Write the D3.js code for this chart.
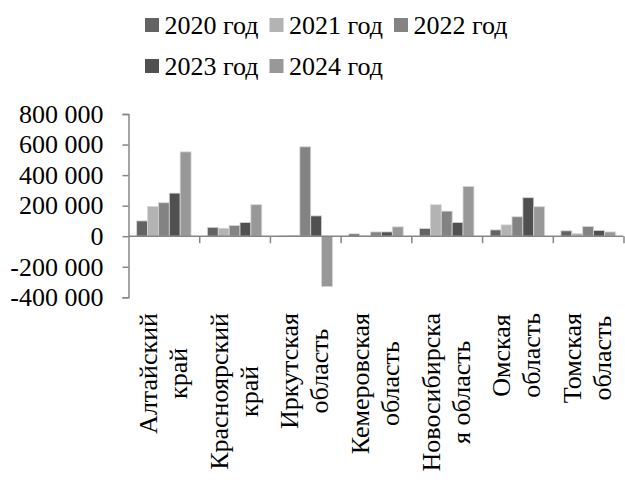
<!DOCTYPE html>
<html>
<head>
<meta charset="utf-8">
<script src="https://cdn.jsdelivr.net/npm/d3@7/dist/d3.min.js"></script>
<style>
  html, body { margin: 0; padding: 0; background: #fff; }
  svg text { font-family: 'Liberation Serif', 'Times New Roman', Tinos, 'DejaVu Serif', serif !important; fill: #000; }
</style>
</head>
<body>
<svg id="chart" width="625" height="501"></svg>
<script>
const categories = [
  ["Алтайский", "край"],
  ["Красноярский", "край"],
  ["Иркутская", "область"],
  ["Кемеровская", "область"],
  ["Новосибирска", "я область"],
  ["Омская", "область"],
  ["Томская", "область"]
];
const seriesNames = ["2020 год", "2021 год", "2022 год", "2023 год", "2024 год"];
const v2020 = [100000, 58000, 1500, 15000, 50000, 41000, 35000];
const v2021 = [195000, 52000, 4000, 2000, 206000, 74000, 17000];
const v2022 = [219000, 70000, 585000, 28000, 164000, 127000, 63000];
const v2023 = [282000, 89000, 133000, 28000, 90000, 252000, 37000];
const v2024 = [552000, 206000, -330000, 61000, 326000, 193000, 28000];
const yTicks = [-400000, -200000, 0, 200000, 400000, 600000, 800000];
const colors = ["#636363", "#b3b3b3", "#838383", "#505050", "#989898"];

const series = [v2020, v2021, v2022, v2023, v2024];
const svg = d3.select("#chart");
const fontSize = 26;
const FONT = "'Liberation Serif', 'Times New Roman', Tinos, 'DejaVu Serif', serif";

const x0 = d3.scaleBand().domain(d3.range(categories.length)).range([128.5, 623.5]).paddingInner(0).paddingOuter(0);
const groupPad = x0.bandwidth() * 1.5 / 6.5 / 2;
const x1 = d3.scaleBand().domain(d3.range(series.length)).range([groupPad, x0.bandwidth() - groupPad]);
const y = d3.scaleLinear().domain([-400000, 800000]).range([297.3, 114]);

const fmt = d => d3.format(",")(d).replace(/,/g, " ").replace("−", "-");

// bars
series.forEach((vals, si) => {
  svg.append("g").selectAll("rect").data(vals).join("rect")
    .attr("x", (d, i) => x0(i) + x1(si))
    .attr("width", x1.bandwidth())
    .attr("y", d => y(Math.max(0, d)))
    .attr("height", d => Math.abs(y(d) - y(0)))
    .attr("fill", colors[si])
    .attr("stroke", "#d6d6d6")
    .attr("stroke-width", 0.8);
});

// y axis
const yAxis = d3.axisLeft(y).tickValues(yTicks).tickSize(6).tickPadding(19).tickFormat(fmt);
const gy = svg.append("g").attr("transform", "translate(128.5,0)").call(yAxis);
gy.attr("font-family", null).attr("font-size", null);
gy.select(".domain").attr("stroke", "#868686").attr("stroke-width", 1.5);
gy.selectAll(".tick line").attr("stroke", "#868686").attr("stroke-width", 1.5);
gy.selectAll(".tick text").style("font-family", FONT).style("font-size", fontSize + "px").attr("fill", "#000");

// x axis at zero
const xAxis = d3.axisBottom(d3.scaleLinear().domain([0, categories.length]).range([128.5, 623.5]))
  .tickValues(d3.range(1, categories.length + 1)).tickSize(7).tickFormat("");
const gx = svg.append("g").attr("transform", `translate(0,${y(0)})`).call(xAxis);
gx.select(".domain").attr("stroke", "#868686").attr("stroke-width", 1.5).attr("d", `M128.5,0H623.5`);
gx.selectAll(".tick line").attr("stroke", "#868686").attr("stroke-width", 1.5);

// category labels (rotated)
const labelTop = 313;
categories.forEach((lines, i) => {
  const cx = x0(i) + x0.bandwidth() / 2;
  const t = svg.append("text")
    .style("font-family", FONT)
    .style("font-size", fontSize + "px")
    .attr("text-anchor", "middle");
  lines.forEach((ln, li) => {
    t.append("tspan").attr("x", 0).attr("y", li === 0 ? -7 : 23).text(ln);
  });
  let maxLen = 0;
  t.selectAll("tspan").each(function () { maxLen = Math.max(maxLen, this.getComputedTextLength()); });
  t.attr("transform", `translate(${cx},${labelTop + maxLen / 2}) rotate(-90)`);
});

// legend
const legendPos = [[145, 25], [269.5, 25], [394, 25], [145, 66], [269.5, 66]];
seriesNames.forEach((name, i) => {
  const [lx, ly] = legendPos[i];
  svg.append("rect").attr("x", lx).attr("y", ly - 7).attr("width", 14).attr("height", 14).attr("fill", colors[i]);
  svg.append("text").attr("x", lx + 19.5).attr("y", ly + 9)
    .style("font-family", FONT).style("font-size", fontSize + "px").text(name);
});
</script>
</body>
</html>
